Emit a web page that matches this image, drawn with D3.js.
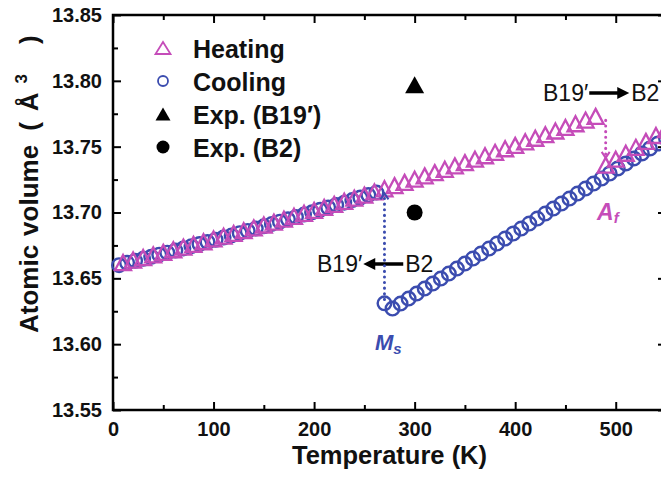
<!DOCTYPE html>
<html>
<head>
<meta charset="utf-8">
<script src="https://cdn.jsdelivr.net/npm/d3@7"></script>
<style>
  body { margin: 0; background: #fff; }
  svg { display: block; overflow: hidden; }
  text { font-family: "Liberation Sans", Arial, sans-serif; }
</style>
</head>
<body>
<div id="chart"></div>
<script>
// ---- data ----
const tempHeat = [10,20,30,40,50,60,70,80,90,100,110,120,130,140,150,160,170,180,190,200,
  210,220,230,240,250,260,270,280,290,300,310,320,330,340,350,360,370,380,390,400,
  410,420,430,440,450,460,470,480];
const volHeat = [13.6620,13.6639,13.6658,13.6678,13.6697,13.6717,13.6737,13.6758,13.6778,13.6799,
  13.6820,13.6841,13.6862,13.6883,13.6905,13.6927,13.6949,13.6971,13.6994,13.7016,
  13.7039,13.7062,13.7085,13.7109,13.7132,13.7156,13.7180,13.7204,13.7229,13.7253,
  13.7278,13.7303,13.7328,13.7354,13.7379,13.7405,13.7431,13.7457,13.7484,13.7510,
  13.7537,13.7564,13.7591,13.7619,13.7646,13.7674,13.7702,13.7730];
// heating after the B19' -> B2 jump
const tempHeatB2 = [490,500,510,520,530,540,550];
const volHeatB2 = [13.7360,13.7405,13.7450,13.7495,13.7540,13.7585,13.7630];

// cooling, B2 branch (down to Ms)
const tempCool = [550,542,534,526,518,510,502,494,486,478,470,462,454,446,438,430,422,414,406,398,
  390,382,374,366,358,350,342,334,326,318,310,302,294,286,278,270];
const volCool = [13.7562,13.7524,13.7486,13.7448,13.7410,13.7372,13.7334,13.7296,13.7258,13.7220,
  13.7182,13.7144,13.7106,13.7068,13.7030,13.6992,13.6954,13.6916,13.6878,13.6840,
  13.6802,13.6764,13.6726,13.6688,13.6650,13.6612,13.6574,13.6536,13.6498,13.6460,
  13.6422,13.6384,13.6346,13.6308,13.6270,13.6310];
// cooling, B19' branch below Ms
const tempCoolB19 = [262,254,246,238,230,222,214,206,198,190,182,174,166,158,150,142,134,126,118,110,
  102,94,86,78,70,62,54,46,38,30,22,14,6];
const volCoolB19 = [13.7151,13.7132,13.7113,13.7094,13.7075,13.7057,13.7038,13.7020,13.7002,13.6984,
  13.6966,13.6948,13.6930,13.6913,13.6895,13.6878,13.6860,13.6843,13.6826,13.6810,
  13.6793,13.6776,13.6760,13.6744,13.6727,13.6711,13.6695,13.6680,13.6664,13.6648,
  13.6633,13.6618,13.6600];

// experimental values
const expTemp = [300, 300];
const expVol = [13.797, 13.700];

const legendLabels = ["Heating", "Cooling", "Exp. (B19\u2032)", "Exp. (B2)"];
const xTicks = [0, 100, 200, 300, 400, 500];
const xMinor = [50, 150, 250, 350, 450, 550];
const yTicks = [13.55, 13.60, 13.65, 13.70, 13.75, 13.80, 13.85];
const yMinor = [13.575, 13.625, 13.675, 13.725, 13.775, 13.825];

const heatColor = "#c54cb9";
const coolColor = "#3b4caf";

const W = 661, H = 479;
const svg = d3.select("#chart").append("svg")
  .attr("width", W).attr("height", H);

// plot box; the right edge falls just outside the picture
const x = d3.scaleLinear().domain([0, 550]).range([113, 666]);
const y = d3.scaleLinear().domain([13.55, 13.85]).range([410, 15]);

const fontTick = "bold 20px 'Liberation Sans', Arial, sans-serif";

// axes with inward ticks
function styleAxis(g) {
  g.select(".domain").remove();
  g.selectAll(".tick line").attr("stroke", "#000").attr("stroke-width", 2);
  g.selectAll(".tick text").style("font", fontTick).attr("fill", "#111");
}
svg.append("g").attr("transform", `translate(0,${y(13.55)})`)
  .call(d3.axisBottom(x).tickValues(xTicks).tickSize(-8).tickPadding(12).tickFormat(d3.format("d")))
  .call(styleAxis);
svg.append("g").attr("transform", `translate(0,${y(13.55)})`)
  .call(d3.axisBottom(x).tickValues(xMinor).tickSize(-5).tickFormat(""))
  .call(styleAxis);
svg.append("g").attr("transform", `translate(0,${y(13.85)})`)
  .call(d3.axisTop(x).tickValues(xTicks).tickSize(-8).tickFormat(""))
  .call(styleAxis);
svg.append("g").attr("transform", `translate(0,${y(13.85)})`)
  .call(d3.axisTop(x).tickValues(xMinor).tickSize(-5).tickFormat(""))
  .call(styleAxis);
svg.append("g").attr("transform", `translate(${x(0)},0)`)
  .call(d3.axisLeft(y).tickValues(yTicks).tickSize(-8).tickPadding(11).tickFormat(d3.format(".2f")))
  .call(styleAxis);
svg.append("g").attr("transform", `translate(${x(0)},0)`)
  .call(d3.axisLeft(y).tickValues(yMinor).tickSize(-5).tickFormat(""))
  .call(styleAxis);
svg.append("g").attr("transform", `translate(${x(550)},0)`)
  .call(d3.axisRight(y).tickValues(yTicks).tickSize(-8).tickFormat(""))
  .call(styleAxis);
svg.append("g").attr("transform", `translate(${x(550)},0)`)
  .call(d3.axisRight(y).tickValues(yMinor).tickSize(-5).tickFormat(""))
  .call(styleAxis);

// frame
svg.append("rect")
  .attr("x", x(0)).attr("y", y(13.85))
  .attr("width", x(550) - x(0)).attr("height", y(13.55) - y(13.85))
  .attr("fill", "none").attr("stroke", "#000").attr("stroke-width", 2.5);

// axis titles
svg.append("text")
  .attr("x", (x(0) + x(550)) / 2).attr("y", 464)
  .attr("text-anchor", "middle")
  .style("font", "bold 25.5px 'Liberation Sans', Arial, sans-serif")
  .attr("fill", "#111")
  .text("Temperature (K)");

const yt = svg.append("text")
  .attr("transform", "translate(38,333) rotate(-90)")
  .style("font", "bold 26px 'Liberation Sans', Arial, sans-serif")
  .attr("fill", "#111");
yt.append("tspan").text("Atomic");
yt.append("tspan").attr("dx", 9).text("volume");
yt.append("tspan").attr("dx", 14).text("(");
yt.append("tspan").attr("dx", 11).text("\u00c5");
yt.append("tspan").attr("dx", 9).attr("dy", -11).style("font-size", "17px").text("3");
yt.append("tspan").attr("dx", 30).attr("dy", 11).text(")");

// marker helpers
const triPath = (w, h) => `M0,${-h/2}L${w/2},${h/2}L${-w/2},${h/2}Z`;

const plot = svg.append("g");

// cooling circles (drawn first, heating sits on top)
const coolPts = tempCool.map((t, i) => ({t, v: volCool[i]}))
  .concat(tempCoolB19.map((t, i) => ({t, v: volCoolB19[i]})));
plot.append("g").selectAll("circle")
  .data(coolPts)
  .join("circle")
    .attr("cx", d => x(d.t))
    .attr("cy", d => y(d.v))
    .attr("r", 6.8)
    .attr("fill", "none")
    .attr("stroke", coolColor)
    .attr("stroke-width", 2.4);

const heatPts = tempHeat.map((t, i) => ({t, v: volHeat[i]}))
  .concat(tempHeatB2.map((t, i) => ({t, v: volHeatB2[i]})));
plot.append("g").selectAll("path")
  .data(heatPts)
  .join("path")
    .attr("transform", d => `translate(${x(d.t)},${y(d.v)})`)
    .attr("d", triPath(16, 15))
    .attr("fill", "none")
    .attr("stroke", heatColor)
    .attr("stroke-width", 2.3)
    .attr("stroke-linejoin", "miter");

// experimental points
plot.append("path")
  .attr("transform", `translate(${x(expTemp[0])},${y(expVol[0])})`)
  .attr("d", triPath(19, 17))
  .attr("fill", "#000");
plot.append("circle")
  .attr("cx", x(expTemp[1])).attr("cy", y(expVol[1]))
  .attr("r", 8).attr("fill", "#000");

// legend
const legend = svg.append("g");
const legY = [48, 81, 114, 147];
legendLabels.forEach((lab, i) => {
  const g = legend.append("g").attr("transform", `translate(163,${legY[i]})`);
  if (i === 0) g.append("path").attr("d", triPath(15, 12)).attr("fill", "none")
    .attr("stroke", heatColor).attr("stroke-width", 1.8);
  if (i === 1) g.append("circle").attr("r", 5).attr("fill", "none")
    .attr("stroke", coolColor).attr("stroke-width", 1.8);
  if (i === 2) g.append("path").attr("d", triPath(15, 13)).attr("fill", "#000");
  if (i === 3) g.append("circle").attr("r", 6.5).attr("fill", "#000");
  g.append("text")
    .attr("x", 30).attr("y", 10)
    .style("font", "bold 25px 'Liberation Sans', Arial, sans-serif")
    .attr("fill", "#111")
    .text(lab);
});

// transition annotations
const annFont = "23px 'Liberation Sans', Arial, sans-serif";
function transLabel(x0, yb, arrowRight) {
  const g = svg.append("g");
  const t1 = g.append("text").attr("x", x0).attr("y", yb)
    .style("font", annFont).attr("fill", "#111").text("B19\u2032");
  const w1 = t1.node().getComputedTextLength();
  const ax0 = x0 + w1 + 1, ax1 = ax0 + 40, ay = yb - 8;
  g.append("line").attr("x1", arrowRight ? ax0 : ax0 + 9).attr("x2", arrowRight ? ax1 - 9 : ax1)
    .attr("y1", ay).attr("y2", ay).attr("stroke", "#000").attr("stroke-width", 3.5);
  const hx = arrowRight ? ax1 : ax0, dir = arrowRight ? -1 : 1;
  g.append("path")
    .attr("d", `M${hx},${ay}L${hx + dir * 12},${ay - 6}L${hx + dir * 12},${ay + 6}Z`)
    .attr("fill", "#000");
  g.append("text").attr("x", ax1 + 2).attr("y", yb)
    .style("font", annFont).attr("fill", "#111").text("B2");
}
transLabel(543, 101, true);
transLabel(317, 272, false);

// dotted transition arrows
function dottedArrow(t, v0, v1, color) {
  const x0 = x(t), y0 = y(v0), y1 = y(v1);
  const dir = y1 < y0 ? -1 : 1;
  svg.append("line")
    .attr("x1", x0).attr("x2", x0).attr("y1", y0).attr("y2", y1 - dir * 1)
    .attr("stroke", color).attr("stroke-width", 3)
    .attr("stroke-linecap", "round").attr("stroke-dasharray", "0.1 5.5");
  svg.append("path")
    .attr("d", `M${x0 - 4},${y1 - dir * 6}L${x0},${y1}L${x0 + 4},${y1 - dir * 6}`)
    .attr("fill", "none").attr("stroke", color).attr("stroke-width", 2);
}
dottedArrow(270, 13.634, 13.7145, coolColor);
dottedArrow(490, 13.770, 13.7415, heatColor);

// Ms and Af labels
const ms = svg.append("text").attr("x", 375).attr("y", 350)
  .style("font", "bold italic 22px 'Liberation Sans', Arial, sans-serif")
  .attr("fill", coolColor);
ms.append("tspan").text("M");
ms.append("tspan").attr("dy", 4).style("font-size", "15px").text("s");

const af = svg.append("text").attr("x", 597).attr("y", 220)
  .style("font", "bold italic 23px 'Liberation Sans', Arial, sans-serif")
  .attr("fill", heatColor);
af.append("tspan").text("A");
af.append("tspan").attr("dy", 3).style("font-size", "15px").text("f");
</script>
</body>
</html>
